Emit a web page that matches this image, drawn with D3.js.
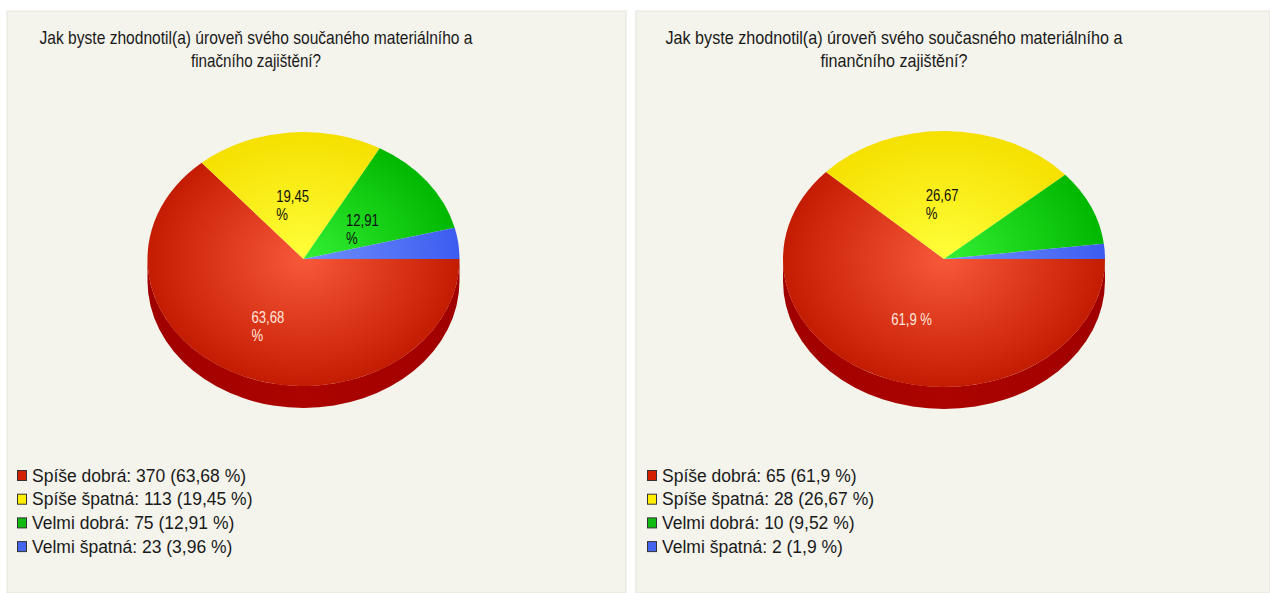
<!DOCTYPE html>
<html>
<head>
<meta charset="utf-8">
<style>
body { margin: 0; background: #fff; font-family: "Liberation Sans", Arial, sans-serif; }
svg { display: block; }
.title { font-size: 19px; fill: #1a1a1a; }
.legend text { font-size: 17.5px; fill: #1a1a1a; }
.plabel { font-size: 16px; }
</style>
<script src="https://cdn.jsdelivr.net/npm/d3@7"></script>
</head>
<body>
<script>
// data
var categories = ["Spíše dobrá", "Spíše špatná", "Velmi dobrá", "Velmi špatná"];
var countsLeft = [370, 113, 75, 23];
var countsRight = [65, 28, 10, 2];
var titleLeft = ["Jak byste zhodnotil(a) úroveň svého součaného materiálního a", "finačního zajištění?"];
var titleRight = ["Jak byste zhodnotil(a) úroveň svého současného materiálního a", "finančního zajištění?"];

var W = 1270, H = 593;
var svg = d3.select("body").append("svg").attr("width", W).attr("height", H);
var defs = svg.append("defs");

// top colours (centre, edge), legend colour, label colour
var topColors = [["#f8583a", "#c41c02"], ["#ffff3a", "#f5e000"], ["#34f034", "#00b800"], ["#7090ff", "#3c5cf0"]];
var legendColors = ["#d42000", "#ffee00", "#11bb11", "#4466ee"];
var labelColors = ["#ffe6dc", "#111", "#111", "#111"];

var panels = [
  {id: "L", x: 7, w: 619, counts: countsLeft, title: titleLeft, cx: 303.5, cy: 259, rx: 156, ry: 127, tx: 256, tw: [433, 130], lx: 17},
  {id: "R", x: 636, w: 634, counts: countsRight, title: titleRight, cx: 944, cy: 259, rx: 161, ry: 128, tx: 894, tw: [457, 147], lx: 647}
];

var depth = 22;
var fmt = function(v) { return (+(v * 100).toFixed(2)).toString().replace(".", ","); };

panels.forEach(function(p) {
  var g = svg.append("g");
  g.append("rect").attr("x", p.x).attr("y", 11).attr("width", p.w).attr("height", H - 11)
    .attr("fill", "#f4f3ec").attr("stroke", "#e4e3dc").attr("stroke-width", 1);

  // title
  g.selectAll("text.title").data(p.title).enter().append("text")
    .attr("class", "title")
    .attr("x", p.tx).attr("y", function(d, i) { return 44 + i * 23; })
    .attr("text-anchor", "middle")
    .attr("textLength", function(d, i) { return p.tw[i]; })
    .attr("lengthAdjust", "spacingAndGlyphs")
    .text(function(d) { return d; });

  var total = d3.sum(p.counts);
  var data = categories.map(function(c, i) { return {cat: c, value: p.counts[i], i: i, pct: p.counts[i] / total}; });

  var pie = d3.pie().sort(null).value(function(d) { return d.value; })
    .startAngle(Math.PI / 2).endAngle(Math.PI / 2 + 2 * Math.PI);
  var arcs = pie(data);

  // gradients
  topColors.forEach(function(c, i) {
    var gr = defs.append("radialGradient").attr("id", "g" + p.id + i)
      .attr("gradientUnits", "userSpaceOnUse").attr("cx", 0).attr("cy", 0).attr("r", p.rx);
    gr.append("stop").attr("offset", "0%").attr("stop-color", c[0]);
    gr.append("stop").attr("offset", "100%").attr("stop-color", c[1]);
  });
  var sg = defs.append("linearGradient").attr("id", "side" + p.id);
  sg.append("stop").attr("offset", "0%").attr("stop-color", "#a00000");
  sg.append("stop").attr("offset", "50%").attr("stop-color", "#ac0400");
  sg.append("stop").attr("offset", "100%").attr("stop-color", "#a00000");

  var k = p.ry / p.rx;
  var pt = function(a, dy) { return [p.cx + p.rx * Math.sin(a), p.cy - p.ry * Math.cos(a) + (dy || 0)]; };

  // sides (front half only: d3 angle pi/2 .. 3pi/2)
  g.selectAll("path.side").data(arcs).enter().append("path")
    .attr("class", "side")
    .attr("fill", "url(#side" + p.id + ")")
    .attr("d", function(d) {
      var a0 = Math.max(d.startAngle, Math.PI / 2), a1 = Math.min(d.endAngle, 3 * Math.PI / 2);
      if (a1 <= a0) return null;
      var s = pt(a0), e = pt(a1), eb = pt(a1, depth), sb = pt(a0, depth);
      return "M" + s + "A" + p.rx + "," + p.ry + " 0 0 1 " + e + "L" + eb +
        "A" + p.rx + "," + p.ry + " 0 0 0 " + sb + "Z";
    });

  // tops
  var arc = d3.arc().innerRadius(0).outerRadius(p.rx);
  g.append("g").attr("transform", "translate(" + p.cx + "," + p.cy + ") scale(1," + k + ")")
    .selectAll("path").data(arcs).enter().append("path")
    .attr("d", arc)
    .attr("fill", function(d) { return "url(#g" + p.id + d.data.i + ")"; });

  // labels
  var lg = g.append("g").attr("class", "plabel");
  var sx = 0.82;
  arcs.filter(function(d) { return d.data.pct >= 0.1; }).forEach(function(d) {
    var mid = (d.startAngle + d.endAngle) / 2;
    var ax = p.cx + 0.5 * p.rx * Math.sin(mid), ay = p.cy - 0.5 * p.ry * Math.cos(mid);
    var num = fmt(d.data.pct);
    var lines = num.length > 4 ? [num, "%"] : [num + " %"];
    var t = lg.append("text").attr("fill", labelColors[d.data.i]);
    lines.forEach(function(l, j) {
      t.append("tspan").attr("x", 0).attr("y", j * 18).text(l);
    });
    var w = t.node().getBBox().width * sx;
    t.attr("transform", "translate(" + (ax - w / 2 - 3) + "," + (ay + 6) + ") scale(" + sx + ",1)");
  });

  // legend
  var leg = g.append("g").attr("class", "legend").selectAll("g").data(data).enter().append("g")
    .attr("transform", function(d, i) { return "translate(" + p.lx + "," + (470 + i * 23.7) + ")"; });
  leg.append("rect").attr("x", 0.5).attr("y", 0.5).attr("width", 9).attr("height", 10)
    .attr("fill", function(d) { return legendColors[d.i]; }).attr("stroke", "#333").attr("stroke-width", 1);
  leg.append("text").attr("x", 15).attr("y", 11.5)
    .text(function(d) { return d.cat + ": " + d.value + " (" + fmt(d.pct) + " %)"; });
});
</script>
</body>
</html>
